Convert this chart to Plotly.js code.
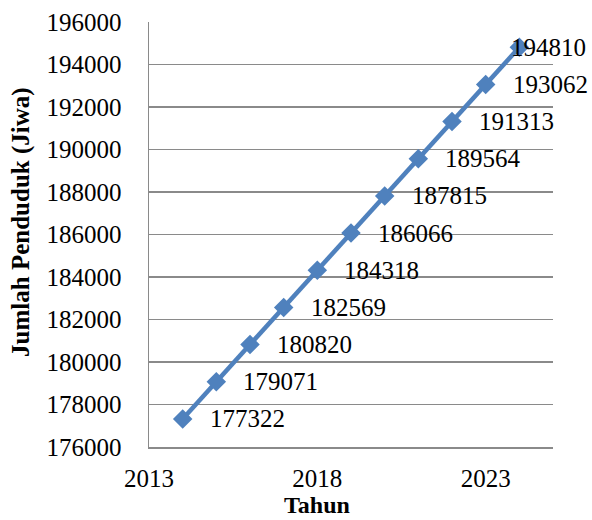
<!DOCTYPE html>
<html>
<head>
<meta charset="utf-8">
<script src="https://cdn.plot.ly/plotly-3.0.1.min.js"></script>
<style>
  html, body { margin: 0; padding: 0; background: #ffffff; }
  #chart { width: 592px; height: 520px; }
</style>
</head>
<body>
<div id="chart"></div>
<script>
// Population per year
const tahun = [2014, 2015, 2016, 2017, 2018, 2019, 2020, 2021, 2022, 2023, 2024];
const penduduk = [177322, 179071, 180820, 182569, 184318, 186066, 187815, 189564, 191313, 193062, 194810];

const xTickVals = [2013, 2018, 2023];
const xTickText = ['2013', '2018', '2023'];
const yTickVals = [176000, 178000, 180000, 182000, 184000, 186000, 188000, 190000, 192000, 194000, 196000];
const yTickText = yTickVals.map(String);

const FONT = 'Liberation Serif, Times New Roman, serif';
const BLUE = '#4F81BD';
const GRID = '#8a8a8a';

const trace = {
  x: tahun,
  y: penduduk,
  type: 'scatter',
  mode: 'lines+markers',
  line: { color: BLUE, width: 4.5 },
  marker: { symbol: 'diamond', size: 15, color: BLUE },
  hoverinfo: 'skip',
  cliponaxis: false
};

// value labels to the right of each point; the last one is pulled back so it fits
const labels = tahun.map((t, i) => ({
  x: t,
  y: penduduk[i],
  xref: 'x',
  yref: 'y',
  text: String(penduduk[i]),
  showarrow: false,
  xanchor: 'left',
  yanchor: 'middle',
  xshift: i === tahun.length - 1 ? -10 : 25,
  font: { family: FONT, size: 25, color: '#000000' }
}));

const titles = [
  {
    text: '<b>Tahun</b>',
    xref: 'paper', yref: 'paper',
    x: (317 - 149) / (553 - 149), y: -73 / 425,
    xanchor: 'center', yanchor: 'bottom',
    showarrow: false,
    font: { family: FONT, size: 24, color: '#000000' }
  },
  {
    text: '<b>Jumlah Penduduk (Jiwa)</b>',
    xref: 'paper', yref: 'paper',
    x: -0.317, y: (447 - 222) / (447 - 22),
    xanchor: 'center', yanchor: 'middle',
    textangle: -90,
    showarrow: false,
    font: { family: FONT, size: 25, color: '#000000' }
  }
];

const layout = {
  width: 592,
  height: 520,
  margin: { l: 149, r: 39, t: 22, b: 73 },
  paper_bgcolor: '#ffffff',
  plot_bgcolor: '#ffffff',
  showlegend: false,
  font: { family: FONT, size: 25, color: '#000000' },
  xaxis: {
    range: [2013, 2025],
    tickmode: 'array',
    tickvals: xTickVals,
    ticktext: xTickText,
    ticks: '',
    showgrid: false,
    zeroline: false,
    showline: true,
    linecolor: GRID,
    linewidth: 1.5,
    ticklabelstandoff: 8,
    tickfont: { family: FONT, size: 25, color: '#000000' }
  },
  yaxis: {
    range: [176000, 196000],
    tickmode: 'array',
    tickvals: yTickVals,
    ticktext: yTickText,
    ticks: '',
    showgrid: true,
    gridcolor: GRID,
    gridwidth: 1.5,
    zeroline: false,
    showline: true,
    linecolor: GRID,
    linewidth: 1.5,
    ticklabelstandoff: 21,
    tickfont: { family: FONT, size: 25, color: '#000000' }
  },
  annotations: labels.concat(titles)
};

Plotly.newPlot('chart', [trace], layout, { staticPlot: true, displayModeBar: false });
</script>
</body>
</html>
